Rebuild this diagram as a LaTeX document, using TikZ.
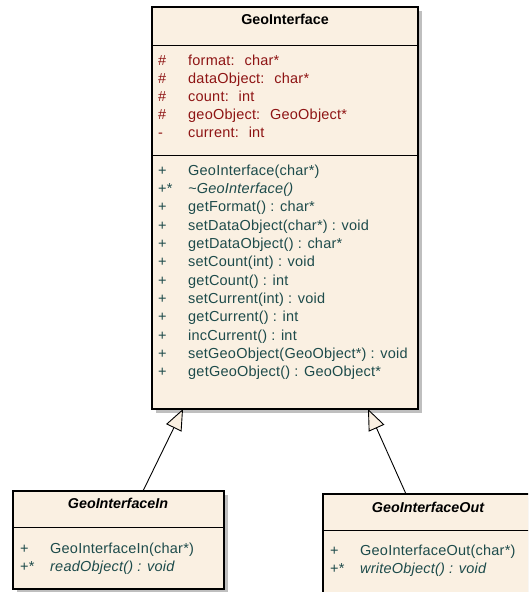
\documentclass[tikz,border=0pt]{standalone}
\usepackage{fontspec}
\setmainfont{Liberation Sans}
\newfontfamily\memberfont[LetterSpace=1.5]{Liberation Sans}
\usetikzlibrary{arrows.meta,shadows,positioning}
\definecolor{umlfill}{HTML}{FAF0E2}
\definecolor{attrcol}{HTML}{8E1414}
\definecolor{opcol}{HTML}{1D4B4B}
\tikzset{
	classbox/.style={rectangle, draw=black, line width=1.2pt, fill=umlfill,
		anchor=north west, inner sep=0pt, outer sep=0pt,
		drop shadow={shadow xshift=4pt, shadow yshift=-4pt, fill=black!25, opacity=1}},
	sep/.style={line width=0.9pt},
	uml/.style={inner sep=0pt, anchor=base west, font=\memberfont\fontsize{14.5}{16}\selectfont},
	attr/.style={uml, text=attrcol},
	oper/.style={uml, text=opcol},
	classname/.style={inner sep=0pt, anchor=base, font=\fontsize{14.3}{16}\selectfont\bfseries},
	inherit/.style={line width=0.9pt, -{Triangle[length=21pt, width=17pt, fill=umlfill]}}
}
\begin{document}
\begin{tikzpicture}[x=1pt,y=-1pt]
	\path[use as bounding box, clip] (0,0) rectangle (528,592);
	% base class
	\node[classbox, minimum width=266pt, minimum height=402pt] (geo) at (152,7) {};
	\draw[sep] (geo.west |- 0,45) -- (geo.east |- 0,45);
	\draw[sep] (geo.west |- 0,155) -- (geo.east |- 0,155);
	\node[classname] (geo-name) at (285,24) {GeoInterface};
	\foreach \vis/\txt [count=\i from 0] in {\#/{format: \ char*}, \#/{dataObject: \ char*},
		\#/{count: \ int}, \#/{geoObject: \ GeoObject*}, -/{current: \ int}}
	{
		\node[attr] (geo-av\i) at (158,65+18*\i) {\vis};
		\node[attr] (geo-a\i) at (188,65+18*\i) {\txt};
	}
	\foreach \vis/\txt [count=\i from 0] in {+/{GeoInterface(char*)},
		+*/{\itshape\textasciitilde GeoInterface()}, +/{getFormat() : char*},
		+/{setDataObject(char*) : void}, +/{getDataObject() : char*},
		+/{setCount(int) : void}, +/{getCount() : int}, +/{setCurrent(int) : void},
		+/{getCurrent() : int}, +/{incCurrent() : int},
		+/{setGeoObject(GeoObject*) : void}, +/{getGeoObject() : GeoObject*}}
	{
		\node[oper] (geo-mv\i) at (158,175+18.36*\i) {\vis};
		\node[oper] (geo-m\i) at (188,175+18.36*\i) {\txt};
	}
	% reader
	\node[classbox, minimum width=211pt, minimum height=98pt] (gin) at (13,491) {};
	\draw[sep] (gin.west |- 0,527) -- (gin.east |- 0,527);
	\node[classname, font=\fontsize{14.3}{16}\selectfont\bfseries\itshape] (gin-name) at (118,508) {GeoInterfaceIn};
	\node[oper] (gin-mv0) at (20,553) {+};
	\node[oper] (gin-m0) at (50,553) {GeoInterfaceIn(char*)};
	\node[oper] (gin-mv1) at (20,571) {+*};
	\node[oper] (gin-m1) at (50,571) {\itshape readObject() : void};
	% writer
	\node[classbox, minimum width=210pt, minimum height=110pt] (gout) at (323,494) {};
	\draw[sep] (gout.west |- 0,530) -- (gout.east |- 0,530);
	\node[classname, font=\fontsize{14.3}{16}\selectfont\bfseries\itshape] (gout-name) at (428,512) {GeoInterfaceOut};
	\node[oper] (gout-mv0) at (330,555) {+};
	\node[oper] (gout-m0) at (360,555) {GeoInterfaceOut(char*)};
	\node[oper] (gout-mv1) at (330,573) {+*};
	\node[oper] (gout-m1) at (360,573) {\itshape writeObject() : void};
	% generalisations
	\path (gin.north west) ++(130,0) coordinate (gin-up)
		(geo.south west) ++(31,0) coordinate (geo-l);
	\path (gout.north west) ++(83,0) coordinate (gout-up)
		(geo.south west) ++(216,0) coordinate (geo-r);
	\draw[inherit] (gin-up) -- (geo-l);
	\draw[inherit] (gout-up) -- (geo-r);
\end{tikzpicture}
\end{document}
